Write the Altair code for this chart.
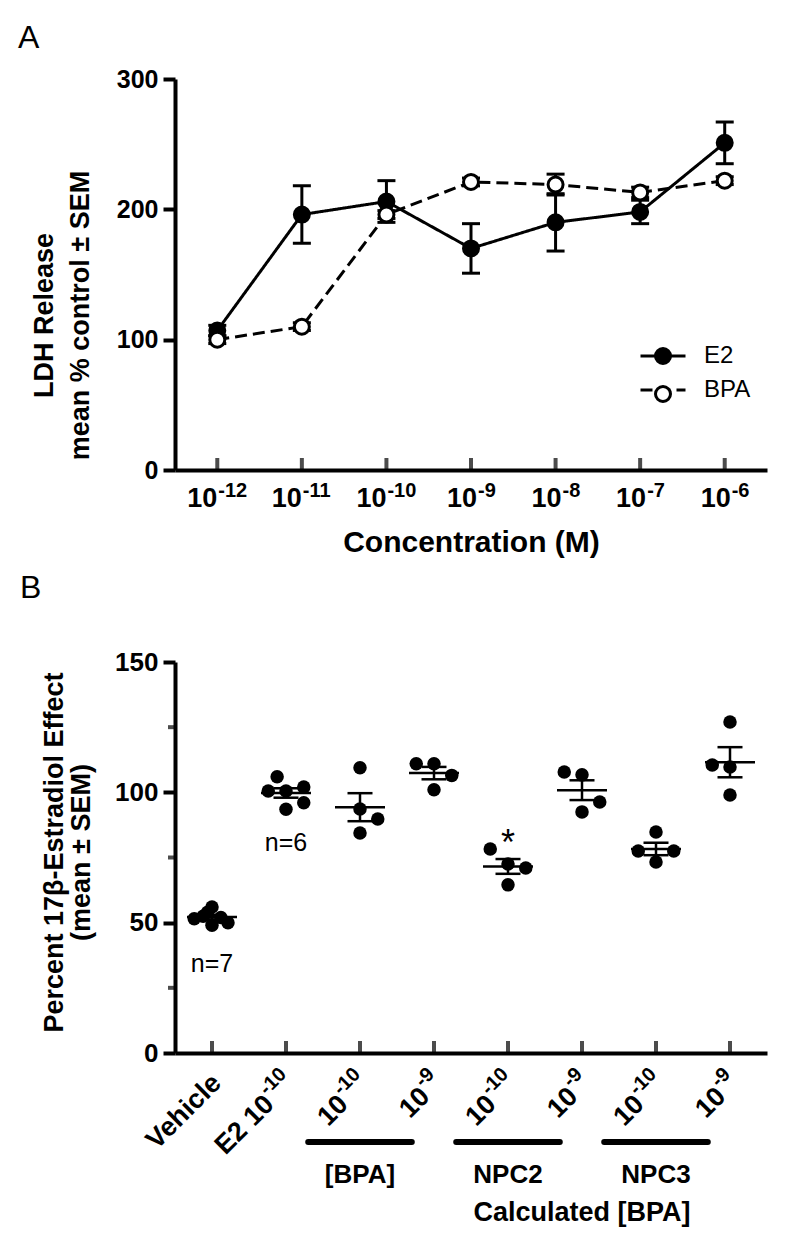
import altair as alt
import pandas as pd

FONT = "Liberation Sans"

# ---------------- Panel A data ----------------
a_exponents = [-12, -11, -10, -9, -8, -7, -6]
a_label_base = ["10"] * 7
a_label_sup = ["-12", "-11", "-10", "-9", "-8", "-7", "-6"]
a_series = ["E2", "BPA"]
e2_mean = [107, 196, 206, 170, 190, 198, 251]
e2_sem = [4, 22, 16, 19, 22, 9, 16]
bpa_mean = [100, 110, 196, 221, 219, 213, 222]
bpa_sem = [3, 3, 3, 3, 8, 4, 3]
a_yticks = [0, 100, 200, 300]

# ---------------- Panel B data ----------------
b_label_base = ["Vehicle", "E2 10", "10", "10", "10", "10", "10", "10"]
b_label_sup = ["", "-10", "-10", "-9", "-10", "-9", "-10", "-9"]
b_values = [
    [51.5, 52.5, 54, 56, 49, 50, 52],
    [100.5, 106, 100.5, 102, 96, 93.5],
    [109.4, 93.6, 89.8, 84.4],
    [111, 111, 106.5, 101],
    [78.3, 72.5, 71, 64.5],
    [107.8, 106.7, 96.3, 92.5],
    [84.8, 77.5, 77.5, 73.3],
    [127, 110.5, 109.7, 99],
]
b_spread = [
    [-1, -0.5, -0.25, 0, 0, 0.9, 0.5],
    [-1, -0.5, 0, 1, 1, 0],
    [0, 0, 1, 0],
    [-1, 0, 1, 0],
    [-1, 0, 1, 0],
    [-1, 0, 1, 0],
    [0, -1, 1, 0],
    [0, -1, 0, 0],
]
b_yticks = [0, 50, 100, 150]
b_minor_ticks = [25, 75, 125]
b_group_names = ["[BPA]", "NPC2", "NPC3"]
b_group_first = [2, 4, 6]
b_group_last = [3, 5, 7]
b_super_label = "Calculated [BPA]"
b_super_members = [1, 2]  # NPC2, NPC3
b_notes = ["n=7", "n=6"]
b_note_idx = [0, 1]
b_note_y = [34, 80.5]
b_star_idx = [4]
b_star_y = [80]

AXIS_COMMON = dict(domainWidth=4, domainColor="black", grid=False)

# ================= Panel A =================
df_a = pd.DataFrame({
    "exp": a_exponents * 2,
    "series": ["E2"] * len(a_exponents) + ["BPA"] * len(a_exponents),
    "mean": e2_mean + bpa_mean,
    "sem": e2_sem + bpa_sem,
})

W, H = 592, 391
sx_a = alt.Scale(domain=[-12.5, -5.5], nice=False, zero=False)
sy_a = alt.Scale(domain=[0, 300], nice=False, zero=False)

x_a = alt.X("exp:Q", scale=sx_a, axis=alt.Axis(
    values=a_exponents, labels=False, ticks=False, tickSize=0, **AXIS_COMMON,
    title="Concentration (M)", titleFontSize=30, titleFontWeight="bold",
    titleY=57, titleBaseline="top"))
y_a = alt.Y("mean:Q", scale=sy_a, axis=alt.Axis(
    values=a_yticks, tickSize=12, tickWidth=4, **AXIS_COMMON,
    labelFontSize=25, labelFontWeight="bold", labelPadding=5,
    title=["LDH Release", "mean % control ± SEM"], titleFontSize=27, titleFontWeight="bold",
    titleLineHeight=36, titleX=-144, titleY=236, titleBaseline="top", titleAlign="center"))

base_a = alt.Chart(df_a).transform_calculate(
    lo="datum.mean - datum.sem", hi="datum.mean + datum.sem", series_fill="datum.series")

LEG_X, LEG_Y = 476, 265

lines_a = base_a.mark_line(color="black", strokeWidth=3).encode(
    x=x_a, y=y_a,
    strokeDash=alt.StrokeDash("series:N", scale=alt.Scale(domain=a_series, range=[[1, 0], [12, 6]]),
                              legend=alt.Legend(orient="none", legendX=LEG_X, legendY=LEG_Y, title=None,
                                                symbolType="M-3,0H3", symbolSize=225,
                                                symbolStrokeColor="black", symbolStrokeWidth=3,
                                                labelFont=FONT, labelFontSize=24, labelFontWeight="normal",
                                                labelColor="black",
                                                labelOffset=29, rowPadding=10, padding=0)))

err_a = base_a.mark_rule(color="black", strokeWidth=3).encode(
    x=alt.X("exp:Q", scale=sx_a), y=alt.Y("lo:Q", scale=sy_a), y2="hi:Q")

caps_a = base_a.transform_fold(["lo", "hi"], as_=["end", "endval"]).mark_tick(
    orient="horizontal", size=18, thickness=3, color="black", opacity=1).encode(
    x=alt.X("exp:Q", scale=sx_a), y=alt.Y("endval:Q", scale=sy_a))

pts_a = base_a.mark_point(shape="circle", size=225, stroke="black", strokeWidth=3,
                          opacity=1, fillOpacity=1).encode(
    x=alt.X("exp:Q", scale=sx_a), y=alt.Y("mean:Q", scale=sy_a),
    fill=alt.Fill("series_fill:N", sort=a_series, scale=alt.Scale(range=["black", "white"]),
                  legend=alt.Legend(orient="none", legendX=LEG_X, legendY=LEG_Y, title=None,
                                    symbolType="circle", symbolSize=225,
                                    symbolStrokeColor="black", symbolStrokeWidth=3, symbolOpacity=1,
                                    labelFont=FONT, labelFontSize=24, labelExpr="''",
                                    labelOffset=29, rowPadding=10, padding=0)))

# inward x ticks
xt_a = alt.Chart(pd.DataFrame({"exp": a_exponents})).mark_tick(
    orient="vertical", size=12, thickness=4, color="black", yOffset=-6).encode(
    x=alt.X("exp:Q", scale=sx_a), y=alt.datum(0, scale=sy_a))

# tick labels 10^n drawn as base + superscript
df_al = pd.DataFrame({"exp": a_exponents, "base": a_label_base, "sup": a_label_sup})
lab_a = alt.Chart(df_al)
lab_a_layers = []
for n, dxv in [(3, 0), (2, 6)]:
    f = "length(datum.sup) == %d" % n
    lab_a_layers.append(lab_a.transform_filter(f).mark_text(
        font=FONT, fontSize=27, fontWeight="bold", color="black", align="right",
        baseline="alphabetic", dx=dxv, dy=37).encode(
        x=alt.X("exp:Q", scale=sx_a), y=alt.datum(0, scale=sy_a), text="base:N"))
    lab_a_layers.append(lab_a.transform_filter(f).mark_text(
        font=FONT, fontSize=20, fontWeight="bold", color="black", align="left",
        baseline="alphabetic", dx=dxv + 1, dy=27).encode(
        x=alt.X("exp:Q", scale=sx_a), y=alt.datum(0, scale=sy_a), text="sup:N"))

chart_a = alt.layer(lines_a, err_a, caps_a, pts_a, xt_a, *lab_a_layers).properties(
    width=W, height=H,
    title=alt.Title("A", anchor="start", frame="group", dx=-157, dy=-8,
                    fontSize=32, fontWeight="normal", font=FONT, color="black"))

# ================= Panel B =================
rows = []
for i, (vals, spr) in enumerate(zip(b_values, b_spread)):
    for v, s in zip(vals, spr):
        rows.append({"idx": i, "value": v, "spread": s})
df_b = pd.DataFrame(rows)
n_cat = len(b_label_base)

sx_b = alt.Scale(domain=[-0.5, n_cat - 0.5], nice=False, zero=False)
sy_b = alt.Scale(domain=[0, 150], nice=False, zero=False)

x_b = alt.X("xpos:Q", scale=sx_b, axis=alt.Axis(
    values=list(range(n_cat)), labels=False, ticks=False, tickSize=0, title=None, **AXIS_COMMON))
y_b = alt.Y("value:Q", scale=sy_b, axis=alt.Axis(
    values=b_yticks, tickSize=12, tickWidth=4, **AXIS_COMMON,
    labelFontSize=26, labelFontWeight="bold", labelPadding=5,
    title=["Percent 17β-Estradiol Effect", "(mean ± SEM)"], titleFontSize=27, titleFontWeight="bold",
    titleLineHeight=27, titleX=-134, titleY=190, titleBaseline="top", titleAlign="center"))

pts_b = alt.Chart(df_b).transform_calculate(xpos="datum.idx + datum.spread * 0.24").mark_circle(
    size=182, color="black", opacity=1).encode(x=x_b, y=y_b)

agg_b = alt.Chart(df_b).transform_aggregate(
    m="mean(value)", s="stderr(value)", groupby=["idx"]).transform_calculate(
    lo="datum.m - datum.s", hi="datum.m + datum.s")

mean_b = agg_b.mark_tick(orient="horizontal", size=50, thickness=2.5, color="black", opacity=1).encode(
    x=alt.X("idx:Q", scale=sx_b), y=alt.Y("m:Q", scale=sy_b))
err_b = agg_b.mark_rule(color="black", strokeWidth=2.5).encode(
    x=alt.X("idx:Q", scale=sx_b), y=alt.Y("lo:Q", scale=sy_b), y2="hi:Q")
caps_b = agg_b.transform_fold(["lo", "hi"], as_=["end", "endval"]).mark_tick(
    orient="horizontal", size=25, thickness=2.5, color="black", opacity=1).encode(
    x=alt.X("idx:Q", scale=sx_b), y=alt.Y("endval:Q", scale=sy_b))

xt_b = alt.Chart(pd.DataFrame({"idx": list(range(n_cat))})).mark_tick(
    orient="vertical", size=12, thickness=4, color="black", yOffset=-6).encode(
    x=alt.X("idx:Q", scale=sx_b), y=alt.datum(0, scale=sy_b))

minor_b = alt.Chart(pd.DataFrame({"v": b_minor_ticks})).mark_tick(
    orient="horizontal", size=7, thickness=4, color="black", xOffset=-3.5).encode(
    x=alt.datum(-0.5, scale=sx_b), y=alt.Y("v:Q", scale=sy_b))

# rotated category labels with superscripts
df_bl = pd.DataFrame({"idx": list(range(n_cat)), "base": b_label_base, "sup": b_label_sup})
lab_b = alt.Chart(df_bl)
END_DX, END_DY = -14.9, 21.9
lab_b_layers = []
for n, wsup in [(0, 0), (3, 30), (2, 19)]:
    lab_b_layers.append(lab_b.transform_filter("length(datum.sup) == %d" % n).mark_text(
        font=FONT, fontSize=27, fontWeight="bold", color="black", align="right",
        baseline="middle", angle=315, dx=END_DX - wsup, dy=END_DY).encode(
        x=alt.X("idx:Q", scale=sx_b), y=alt.datum(0, scale=sy_b), text="base:N"))
lab_b_layers.append(lab_b.transform_filter("length(datum.sup) > 0").mark_text(
    font=FONT, fontSize=20, fontWeight="bold", color="black", align="right",
    baseline="middle", angle=315, dx=END_DX, dy=END_DY - 11).encode(
    x=alt.X("idx:Q", scale=sx_b), y=alt.datum(0, scale=sy_b), text="sup:N"))

notes_b = alt.Chart(pd.DataFrame({"idx": b_note_idx, "y": b_note_y, "t": b_notes})).mark_text(
    font=FONT, fontSize=25, color="black", baseline="middle").encode(
    x=alt.X("idx:Q", scale=sx_b), y=alt.Y("y:Q", scale=sy_b), text="t:N")

star_b = alt.Chart(pd.DataFrame({"idx": b_star_idx, "y": b_star_y, "t": ["*"] * len(b_star_idx)})).mark_text(
    font=FONT, fontSize=36, color="black", baseline="middle").encode(
    x=alt.X("idx:Q", scale=sx_b), y=alt.Y("y:Q", scale=sy_b), text="t:N")

df_groups = pd.DataFrame({"name": b_group_names, "first": b_group_first, "last": b_group_last})
grp = alt.Chart(df_groups).transform_calculate(
    start="datum.first - 0.7", end="datum.last - 0.3", mid="(datum.first + datum.last) / 2 - 0.5")
bars_b = grp.mark_rule(color="black", strokeWidth=6, strokeCap="round").encode(
    x=alt.X("start:Q", scale=sx_b), x2="end:Q", y=alt.value(480))
glabels_b = grp.mark_text(font=FONT, fontSize=26, fontWeight="bold", color="black", baseline="middle").encode(
    x=alt.X("mid:Q", scale=sx_b), y=alt.value(513), text="name:N")

mids = [(f + l) / 2 - 0.5 for f, l in zip(b_group_first, b_group_last)]
super_x = sum(mids[k] for k in b_super_members) / len(b_super_members)
super_b = alt.Chart(pd.DataFrame({"x": [super_x], "t": [b_super_label]})).mark_text(
    font=FONT, fontSize=27, fontWeight="bold", color="black", baseline="middle").encode(
    x=alt.X("x:Q", scale=sx_b), y=alt.value(551), text="t:N")

chart_b = alt.layer(pts_b, mean_b, err_b, caps_b, xt_b, minor_b, *lab_b_layers, notes_b, star_b,
                    bars_b, glabels_b, super_b).properties(
    width=W, height=H,
    title=alt.Title("B", anchor="start", frame="group", dx=-155, dy=-40,
                    fontSize=32, fontWeight="normal", font=FONT, color="black"))

chart = alt.vconcat(chart_a, chart_b, spacing=15).properties(
    padding={"left": 10, "top": 14, "right": 5, "bottom": 5},
    background="white",
).configure_view(stroke=None).configure_axis(
    grid=False, domainColor="black", tickColor="black", labelColor="black", titleColor="black",
    labelFont=FONT, titleFont=FONT)

chart.save("out.html", embed_options={"renderer": "svg", "actions": False})
